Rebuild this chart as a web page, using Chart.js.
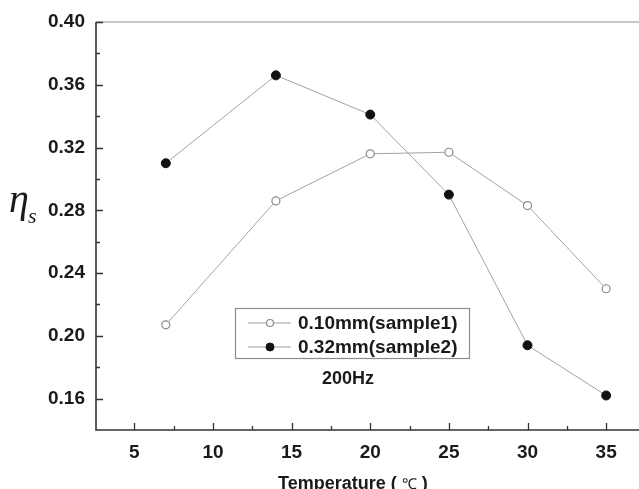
<!DOCTYPE html>
<html>
<head>
<meta charset="utf-8">
<script src="https://cdn.jsdelivr.net/npm/chart.js@4/dist/chart.umd.min.js"></script>
<style>
    html, body { margin: 0; padding: 0; background: #fff; overflow: hidden; }
</style>
</head>
<body>
<canvas id="etaChart" width="639" height="489"></canvas>
<script>
// values
const temperatures = [7, 14, 20, 25, 30, 35];
const sample1 = [0.207, 0.286, 0.316, 0.317, 0.283, 0.230];
const sample2 = [0.310, 0.366, 0.341, 0.290, 0.194, 0.162];
const seriesNames = ['0.10mm(sample1)', '0.32mm(sample2)'];
const xTicks = [5, 10, 15, 20, 25, 30, 35];
const xMinor = [7.5, 12.5, 17.5, 22.5, 27.5, 32.5];
const yTicks = [0.16, 0.20, 0.24, 0.28, 0.32, 0.36, 0.40];
const yMinor = [0.18, 0.22, 0.26, 0.30, 0.34, 0.38];
const noteText = '200Hz';

const SANS = "'Liberation Sans', Arial, sans-serif";
const SERIF = "'Liberation Serif', 'Times New Roman', serif";

function toPoints(xs, ys) {
    return xs.map((v, i) => ({ x: v, y: ys[i] }));
}

// axes frame with inward ticks
const framePlugin = {
    id: 'frame',
    beforeDatasetsDraw(chart) {
        const { ctx, chartArea: a, scales: { x, y } } = chart;
        ctx.save();
        ctx.strokeStyle = '#b4b4b4';
        ctx.lineWidth = 1.5;
        ctx.beginPath();
        ctx.moveTo(a.left, a.top);
        ctx.lineTo(a.right, a.top);
        ctx.stroke();

        ctx.strokeStyle = '#333';
        ctx.lineWidth = 1.6;
        ctx.beginPath();
        ctx.moveTo(a.left, a.top);
        ctx.lineTo(a.left, a.bottom);
        ctx.lineTo(a.right, a.bottom);
        ctx.stroke();

        ctx.lineWidth = 1.3;
        ctx.beginPath();
        xTicks.forEach(v => {
            const px = Math.round(x.getPixelForValue(v)) + 0.5;
            ctx.moveTo(px, a.bottom); ctx.lineTo(px, a.bottom - 7);
        });
        xMinor.forEach(v => {
            const px = Math.round(x.getPixelForValue(v)) + 0.5;
            ctx.moveTo(px, a.bottom); ctx.lineTo(px, a.bottom - 4);
        });
        yTicks.forEach(v => {
            const py = Math.round(y.getPixelForValue(v)) + 0.5;
            ctx.moveTo(a.left, py); ctx.lineTo(a.left + 7, py);
        });
        yMinor.forEach(v => {
            const py = Math.round(y.getPixelForValue(v)) + 0.5;
            ctx.moveTo(a.left, py); ctx.lineTo(a.left + 4, py);
        });
        ctx.stroke();
        ctx.restore();
    }
};

// legend box, note and axis titles
const labelPlugin = {
    id: 'labels',
    afterDatasetsDraw(chart) {
        const { ctx } = chart;
        ctx.save();

        // legend
        ctx.strokeStyle = '#8c8c8c';
        ctx.lineWidth = 1.2;
        ctx.strokeRect(235.5, 308.5, 234, 50);
        const rows = [323, 347];
        chart.data.datasets.forEach((ds, i) => {
            const ry = rows[i];
            ctx.strokeStyle = ds.borderColor;
            ctx.lineWidth = 1;
            ctx.beginPath();
            ctx.moveTo(248, ry); ctx.lineTo(291, ry);
            ctx.stroke();
            ctx.beginPath();
            ctx.arc(270, ry, ds.pointRadius - 0.5, 0, Math.PI * 2);
            ctx.fillStyle = ds.pointBackgroundColor;
            ctx.fill();
            ctx.strokeStyle = ds.pointBorderColor;
            ctx.lineWidth = ds.pointBorderWidth;
            ctx.stroke();
            ctx.fillStyle = '#1a1a1a';
            ctx.font = 'bold 19px ' + SANS;
            ctx.textAlign = 'left';
            ctx.textBaseline = 'middle';
            ctx.fillText(ds.label, 298, ry + 1);
        });

        // note
        ctx.fillStyle = '#1a1a1a';
        ctx.font = 'bold 18px ' + SANS;
        ctx.textAlign = 'center';
        ctx.textBaseline = 'middle';
        ctx.fillText(noteText, 348, 379);

        // x title
        ctx.textAlign = 'left';
        ctx.textBaseline = 'alphabetic';
        let tx = 278;
        const parts = [
            ['Temperature ( ', 'bold 18px ' + SANS],
            ['\u2103', '15px ' + SERIF],
            [' )', 'bold 18px ' + SANS]
        ];
        parts.forEach(([t, f]) => {
            ctx.font = f;
            ctx.fillText(t, tx, 489);
            tx += ctx.measureText(t).width;
        });

        // y title
        ctx.font = 'italic 40px ' + SERIF;
        ctx.fillText('\u03b7', 9, 212);
        ctx.font = 'italic 22px ' + SERIF;
        ctx.fillText('s', 28, 223);
        ctx.restore();
    }
};

const ctx = document.getElementById('etaChart').getContext('2d');
const etaChart = new Chart(ctx, {
    type: 'line',
    data: {
        datasets: [{
            label: seriesNames[0],
            data: toPoints(temperatures, sample1),
            borderColor: '#a3a3a3',
            borderWidth: 1,
            pointRadius: 4,
            pointBackgroundColor: '#ffffff',
            pointBorderColor: '#8a8a8a',
            pointBorderWidth: 1.2,
            tension: 0
        }, {
            label: seriesNames[1],
            data: toPoints(temperatures, sample2),
            borderColor: '#a3a3a3',
            borderWidth: 1,
            pointRadius: 4.5,
            pointBackgroundColor: '#111111',
            pointBorderColor: '#111111',
            pointBorderWidth: 1,
            tension: 0
        }]
    },
    options: {
        responsive: false,
        animation: false,
        layout: { autoPadding: false, padding: { top: 22, right: 0, bottom: 0, left: 0 } },
        plugins: {
            legend: { display: false },
            tooltip: { enabled: false }
        },
        scales: {
            x: {
                type: 'linear',
                min: 2.56,
                max: 37.09,
                afterBuildTicks: s => { s.ticks = xTicks.map(v => ({ value: v })); },
                afterFit: s => { s.height = 59; s.paddingLeft = 0; s.paddingRight = 0; },
                grid: { display: false, drawTicks: false },
                border: { display: false },
                ticks: {
                    padding: 11,
                    color: '#1a1a1a',
                    font: { family: SANS, size: 19, weight: 'bold' }
                }
            },
            y: {
                min: 0.14,
                max: 0.40,
                afterBuildTicks: s => { s.ticks = yTicks.map(v => ({ value: v })); },
                afterFit: s => { s.width = 96; s.paddingTop = 0; s.paddingBottom = 0; },
                grid: { display: false, drawTicks: false },
                border: { display: false },
                ticks: {
                    padding: 11,
                    color: '#1a1a1a',
                    font: { family: SANS, size: 19, weight: 'bold' },
                    callback: v => v.toFixed(2)
                }
            }
        }
    },
    plugins: [framePlugin, labelPlugin]
});
</script>
</body>
</html>
